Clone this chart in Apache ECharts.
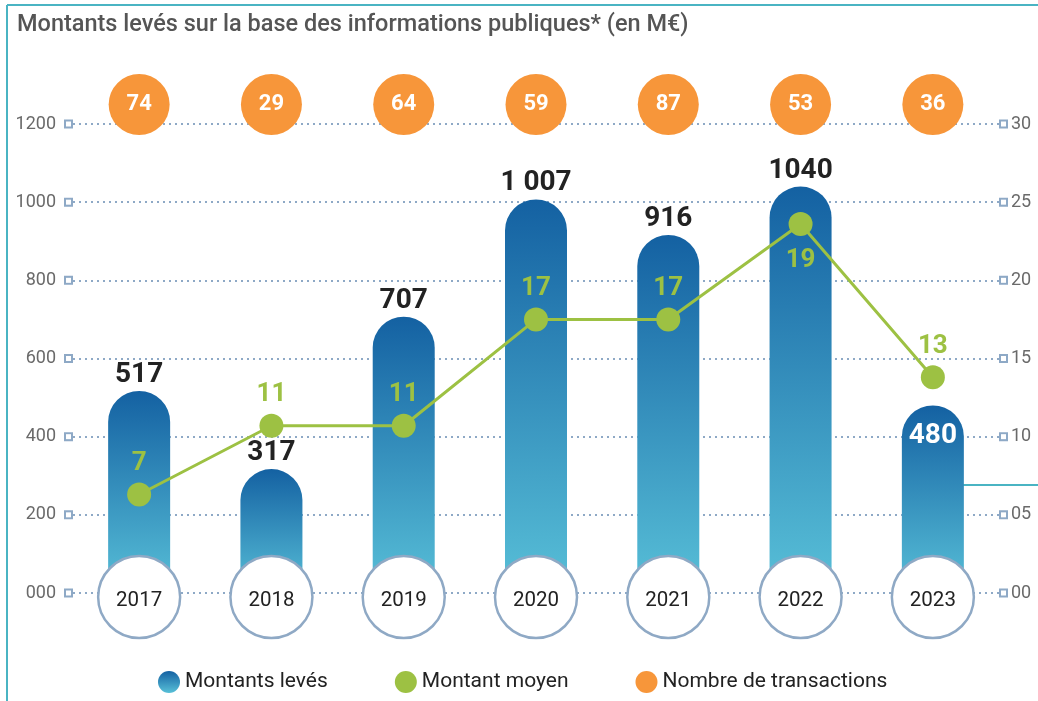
<!DOCTYPE html>
<html>
<head>
<meta charset="utf-8">
<script src="https://cdn.jsdelivr.net/npm/echarts@6/dist/echarts.min.js"></script>
<style>
html, body { margin: 0; padding: 0; background: #fff; }
#main { width: 1038px; height: 701px; }
</style>
</head>
<body>
<div id="main"></div>
<script>
// données
var annees = ['2017', '2018', '2019', '2020', '2021', '2022', '2023'];
var montantsLeves = [517, 317, 707, 1007, 916, 1040, 480];
var libellesMontants = ['517', '317', '707', '1 007', '916', '1040', '480'];
var montantMoyen = [6.3, 10.7, 10.7, 17.5, 17.5, 23.6, 13.8];
var libellesMoyen = ['7', '11', '11', '17', '17', '19', '13'];
var nbTransactions = [74, 29, 64, 59, 87, 53, 36];

var bleu = new echarts.graphic.LinearGradient(0, 0, 0, 1, [
  { offset: 0, color: '#1461a2' },
  { offset: 1, color: '#58c0d8' }
]);
var vert = '#9dc143';
var orange = '#f7963a';
var gris = '#8ea9c6';
var police = 'Roboto';

var carre = { width: 5, height: 5, borderColor: gris, borderWidth: 2, backgroundColor: '#fff', fontSize: 1 };

var option = {
  textStyle: { fontFamily: police },
  title: {
    text: 'Montants levés sur la base des informations publiques* (en M€)',
    left: 12, top: 8,
    textStyle: { fontSize: 23.5, fontWeight: 500, color: '#555', fontFamily: police }
  },
  legend: {
    bottom: 3, left: 153, itemGap: 67, itemWidth: 22, itemHeight: 22, icon: 'circle',
    textStyle: { fontSize: 21, color: '#222', fontFamily: police },
    data: ['Montants levés', 'Montant moyen', 'Nombre de transactions']
  },
  grid: { left: 73, right: 39, top: 124, bottom: 108 },
  xAxis: {
    type: 'category', data: annees,
    axisLine: { show: false }, axisTick: { show: false }, axisLabel: { show: false }
  },
  yAxis: [
    {
      type: 'value', min: 0, max: 1200, interval: 200,
      axisLine: { show: false }, axisTick: { show: false },
      splitLine: { lineStyle: { color: gris, type: [2, 4], width: 2 } },
      axisLabel: {
        margin: 2,
        formatter: function (v) { return '{t|' + String(v).padStart(3, '0') + '}{sq| }'; },
        rich: { t: { fontSize: 18, color: '#6a6a6a', padding: [0, 10, 0, 0], fontFamily: police }, sq: carre }
      }
    },
    {
      type: 'value', min: 0, max: 30, interval: 5,
      axisLine: { show: false }, axisTick: { show: false }, splitLine: { show: false },
      axisLabel: {
        margin: 2,
        formatter: function (v) { return '{sq| }{t|' + String(v).padStart(2, '0') + '}'; },
        rich: { t: { fontSize: 18, color: '#6a6a6a', padding: [0, 0, 0, 5], fontFamily: police }, sq: carre }
      }
    }
  ],
  graphic: [
    { type: 'line', shape: { x1: 7, y1: 5, x2: 1038, y2: 5 }, style: { stroke: '#4ab4c3', lineWidth: 2 } },
    { type: 'line', shape: { x1: 7, y1: 5, x2: 7, y2: 701 }, style: { stroke: '#4ab4c3', lineWidth: 2 } },
    { type: 'line', shape: { x1: 963, y1: 485, x2: 1038, y2: 485 }, style: { stroke: '#4ab4c3', lineWidth: 2 } }
  ],
  series: [
    {
      name: 'Montants levés', type: 'bar', barWidth: 62, z: 2,
      data: montantsLeves.map(function (v, i) {
        return i === 6 ? { value: v, label: { color: '#fff' } } : v;
      }),
      itemStyle: { color: bleu, borderRadius: [31, 31, 0, 0] },
      label: {
        show: true, position: 'top', distance: 2, fontSize: 28, fontWeight: 'bold', color: '#222',
        formatter: function (p) { return libellesMontants[p.dataIndex]; }
      },
      labelLayout: function (p) {
        if (p.dataIndex === 6) return { dy: 47 };
      }
    },
    {
      name: 'Montant moyen', type: 'line', yAxisIndex: 1, z: 4,
      data: montantMoyen.map(function (v, i) {
        return { value: v, label: i === 5 ? { position: 'bottom', distance: 11 } : { position: 'top' } };
      }),
      symbol: 'circle', symbolSize: 24,
      lineStyle: { color: vert, width: 3 },
      itemStyle: { color: vert },
      label: {
        show: true, distance: 6, fontSize: 26, fontWeight: 'bold', color: vert,
        formatter: function (p) { return libellesMoyen[p.dataIndex]; }
      }
    },
    {
      name: 'Nombre de transactions', type: 'scatter', z: 5,
      data: nbTransactions.map(function (v, i) { return [i, 1200]; }),
      symbolSize: 61, symbolOffset: [0, -19.5],
      itemStyle: { color: orange, opacity: 1 },
      label: {
        show: true, position: 'inside', fontSize: 22, fontWeight: 'bold', color: '#fff',
        formatter: function (p) { return String(nbTransactions[p.dataIndex]); }
      }
    },
    {
      name: 'annees', type: 'scatter', z: 6, silent: true,
      data: annees.map(function (a, i) { return [i, 0]; }),
      symbolSize: 82, symbolOffset: [0, 4],
      itemStyle: { color: '#fff', borderColor: '#8fa9c5', borderWidth: 2.5, opacity: 1 },
      label: {
        show: true, position: 'inside', offset: [0, 4], fontSize: 20.5, color: '#222',
        formatter: function (p) { return annees[p.dataIndex]; }
      }
    }
  ]
};

var monGraphique = echarts.init(document.getElementById('main'));
monGraphique.setOption(option);
</script>
</body>
</html>
